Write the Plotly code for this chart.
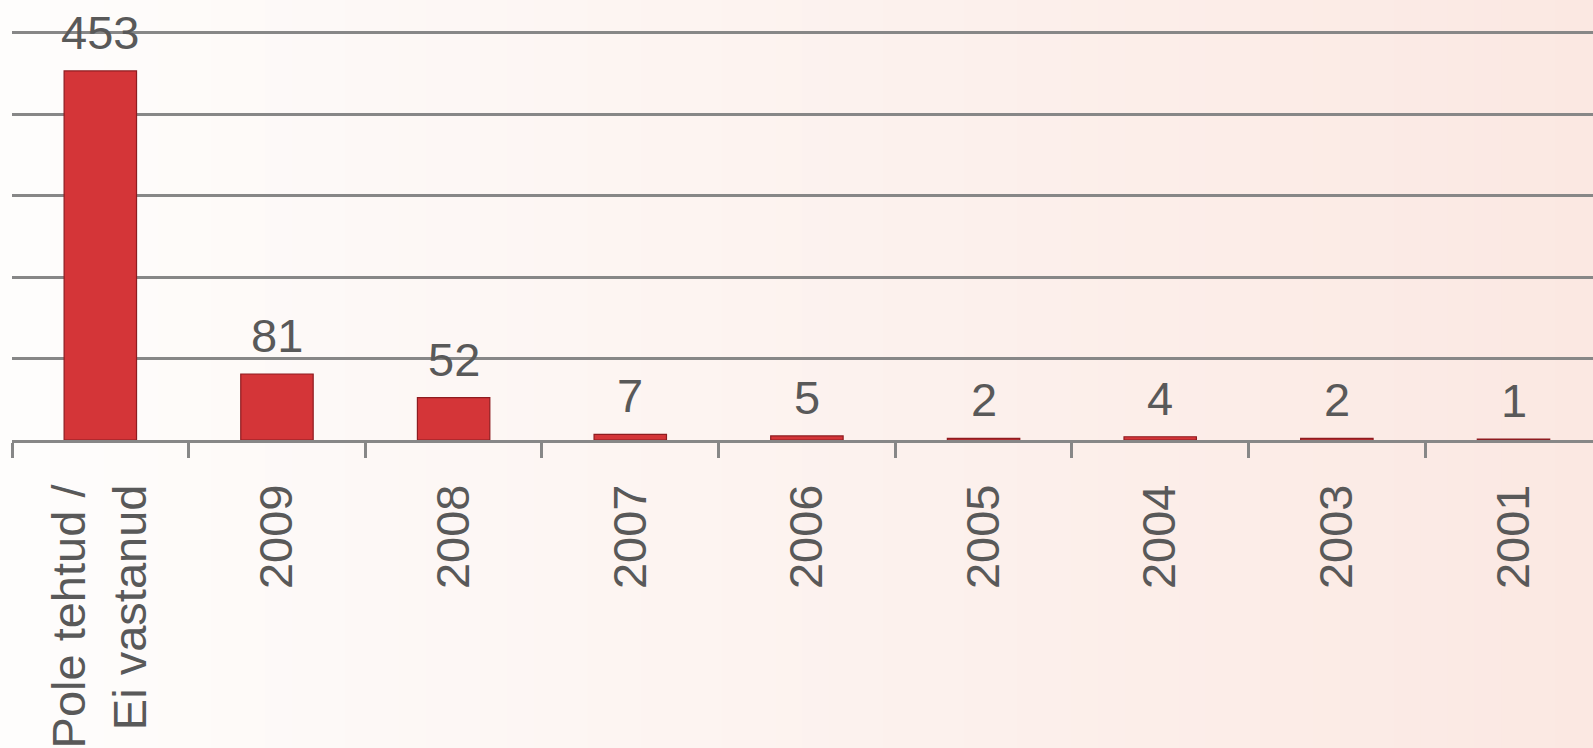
import plotly.graph_objects as go

categories = ["Pole tehtud /<br>Ei vastanud", "2009", "2008", "2007", "2006",
              "2005", "2004", "2003", "2001"]
counts = [453, 81, 52, 7, 5, 2, 4, 2, 1]

font_name = "Liberation Sans, Arial, sans-serif"
text_grey = "#595959"
grid_grey = "#878787"


def mix(c1, c2, t):
    a = [int(c1[i:i + 2], 16) for i in (1, 3, 5)]
    b = [int(c2[i:i + 2], 16) for i in (1, 3, 5)]
    return "#" + "".join("%02x" % round(a[k] + (b[k] - a[k]) * t) for k in range(3))


fig = go.Figure()

fig.add_trace(go.Bar(
    x=categories, y=counts,
    width=0.41,
    marker=dict(color="#d43538", line=dict(color="#8e1c20", width=1.2)),
    hoverinfo="x+y",
))

# value labels above the bars (x given as category index, the years would
# otherwise be read as numbers)
for i, v in enumerate(counts):
    fig.add_annotation(x=i, y=v, text=str(v), showarrow=False,
                       yanchor="bottom", yshift=10,
                       font=dict(family=font_name, size=47, color=text_grey))

# soft background gradient, white on the left to pale pink on the right
n_strips = 60
for i in range(n_strips):
    fig.add_shape(type="rect", xref="paper", yref="paper",
                  x0=-0.01 + i / n_strips * 1.02, x1=-0.01 + (i + 1.05) / n_strips * 1.02,
                  y0=-1, y1=1.1, layer="below", line=dict(width=0),
                  fillcolor=mix("#fefdfc", "#fbe8e2", i / (n_strips - 1)))

fig.update_layout(
    width=1593, height=748,
    margin=dict(l=12, r=0, t=0, b=308),
    paper_bgcolor="#fdf6f3",
    plot_bgcolor="rgba(0,0,0,0)",
    showlegend=False,
    bargap=0.59,
    font=dict(family=font_name, size=47, color=text_grey),
)
fig.update_xaxes(
    type="category", range=[-0.5, 8.45],
    showline=True, linecolor=grid_grey, linewidth=2.5,
    ticks="outside", tickson="boundaries", ticklen=15, tickwidth=2.5, tickcolor=grid_grey,
    tickangle=-90, ticklabelstandoff=23,
    tickfont=dict(family=font_name, size=47, color=text_grey),
    showgrid=False,
)
fig.update_yaxes(
    range=[0, 540], dtick=100, showticklabels=False,
    showgrid=True, gridcolor=grid_grey, gridwidth=2.5,
    zeroline=False, showline=False,
)

fig.write_html("out.html", config={"displayModeBar": False},
               post_script="document.body.style.margin='0';document.body.style.overflow='hidden';")
